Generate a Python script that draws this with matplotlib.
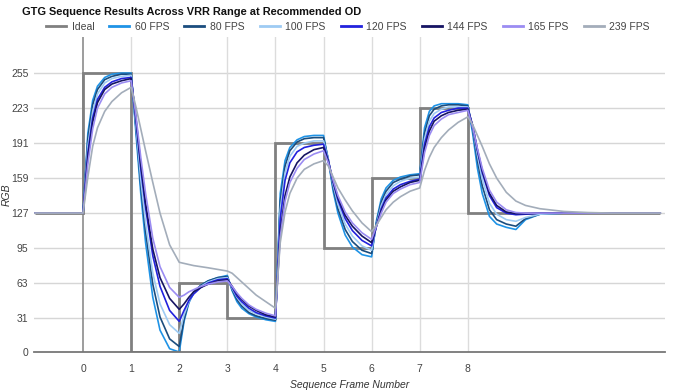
import matplotlib
matplotlib.use('Agg')
import matplotlib.pyplot as plt
from matplotlib.lines import Line2D

# ---------------- data ----------------
title = "GTG Sequence Results Across VRR Range at Recommended OD"
x_label = "Sequence Frame Number"
y_label = "RGB"
y_ticks = [0, 31, 63, 95, 127, 159, 191, 223, 255]
x_ticks = [0, 1, 2, 3, 4, 5, 6, 7, 8]

ideal_edges = [-1, 0, 1, 2, 3, 4, 5, 6, 7, 8, 12]
ideal_levels = [127, 255, 0, 63, 31, 191, 95, 159, 223, 127]

frame_offsets = [0.1, 0.2, 0.3, 0.45, 0.6, 0.8, 1.0]
tail_x = [8.1, 8.2, 8.3, 8.45, 8.6, 8.8, 9.0, 9.2, 9.5, 10, 10.5, 11, 12]
sample_x = [-1.0, 0.0] + [k + o for k in range(8) for o in frame_offsets] + tail_x

series_names = ["60 FPS", "80 FPS", "100 FPS", "120 FPS", "144 FPS", "165 FPS", "239 FPS"]

fps60 = [127, 127,
         200, 230, 243, 251, 254, 255, 255,
         200, 145, 100, 50, 20, 3, 0,
         28, 45, 54, 61, 65, 68, 70,
         56, 46, 40, 35, 32, 29.5, 28,
         145, 175, 187, 194, 197, 198, 198,
         175, 147, 127, 107, 96, 89, 87,
         120, 140, 150, 157, 160, 162, 163,
         205, 220, 225, 227, 227, 227, 226,
         200, 168, 145, 124, 117, 114, 112, 121, 126, 127, 127, 127, 127]
fps80 = [127, 127,
         195, 226, 240, 249, 252, 254, 254,
         205, 152, 110, 62, 32, 12, 5,
         30, 46, 55, 61, 65, 68, 69,
         57, 48, 42, 36, 33, 30.5, 29,
         138, 170, 184, 192, 195, 196, 196,
         176, 150, 131, 112, 101, 93, 90,
         118, 137, 147, 155, 158, 161, 162,
         200, 216, 222, 225, 226, 226, 225,
         204, 175, 152, 130, 121, 117, 115, 122, 126, 127, 127, 127, 127]
fps100 = [127, 127,
          188, 220, 236, 246, 250, 252, 253,
          208, 158, 118, 72, 44, 25, 17,
          34, 46, 54, 60, 64, 67, 68,
          58, 50, 44, 38, 35, 32, 30,
          130, 164, 179, 188, 191, 193, 193,
          176, 153, 135, 117, 106, 97, 93,
          116, 134, 144, 152, 156, 159, 160,
          195, 211, 218, 222, 224, 224, 224,
          206, 180, 158, 136, 126, 121, 119.5, 123, 126, 127, 127, 127, 127]
fps120 = [127, 127,
          182, 214, 231, 242, 247, 250, 251,
          212, 168, 132, 88, 60, 38, 28,
          38, 47, 53, 59, 63, 66, 67,
          59, 51, 46, 40, 36, 33, 31,
          122, 157, 173, 183, 187, 189, 190,
          175, 155, 139, 122, 111, 102, 97,
          115, 131, 141, 149, 153, 156, 158,
          190, 206, 214, 219, 221, 223, 223,
          207, 184, 164, 143, 132, 127, 125.5, 126, 127, 127, 127, 127, 127]
fps144 = [127, 127,
          178, 210, 228, 240, 245, 248, 250,
          214, 172, 136, 94, 68, 49, 39,
          44, 50, 55, 59, 62, 65, 66,
          60, 53, 48, 42, 38, 34, 32,
          110, 143, 160, 173, 180, 185, 187,
          174, 156, 141, 125, 115, 106, 100,
          115, 129, 139, 147, 151, 155, 157,
          186, 202, 211, 216, 219, 221, 222,
          207, 185, 166, 145, 134, 128, 126.5, 126.5, 127, 127, 127, 127, 127]
fps165 = [127, 127,
          172, 204, 223, 236, 242, 246, 248,
          216, 178, 145, 104, 78, 59, 50,
          52, 55, 57, 60, 62, 64, 65,
          60, 54, 49, 43, 39, 35.5, 33,
          105, 138, 155, 168, 176, 181, 184,
          173, 157, 143, 128, 118, 109, 103,
          115, 127, 137, 145, 149, 153, 155,
          182, 198, 207, 213, 217, 219, 221,
          206, 186, 168, 148, 137, 130, 127.5, 127, 127, 127, 127, 127, 127]
fps239 = [127, 127,
          160, 188, 205, 220, 229, 237, 242,
          224, 204, 184, 155, 127, 98, 82,
          81, 80, 79, 78, 77, 75.5, 74,
          72, 68, 64, 58, 52, 46, 40,
          100, 128, 145, 159, 167, 172, 175,
          170, 160, 150, 139, 129, 118, 110,
          116, 123, 130, 137, 142, 147, 150,
          166, 178, 187, 196, 203, 210, 215,
          208, 198, 188, 172, 159, 146, 138, 134, 131, 128.5, 127.5, 127, 127]

series_values = [fps60, fps80, fps100, fps120, fps144, fps165, fps239]
series_colors = ["#1f93e6", "#1b4d7e", "#9ecbf3", "#2222dd", "#161463", "#9b8cf2", "#a3adba"]
ideal_color = "#808080"

# ---------------- figure ----------------
plt.rcParams['font.family'] = ['Liberation Sans', 'DejaVu Sans']
fig = plt.figure(figsize=(6.75, 3.9), dpi=100)
ax = fig.add_axes([34 / 675, 1 - 352 / 390, 631 / 675, 315 / 390])

ax.set_xlim(-1.02, 12.1)
ax.set_ylim(0, 288)

for yt in y_ticks[1:]:
    ax.axhline(yt, color="#d6d6d6", lw=1, zorder=0)
for xt in x_ticks[1:]:
    ax.axvline(xt, color="#dcdcdc", lw=1, zorder=0)
ax.axvline(0, color="#8c8c8c", lw=1.2, zorder=0.5)

ax.stairs(ideal_levels, ideal_edges, baseline=None, color=ideal_color, lw=2, zorder=1)
for name, vals, col in zip(series_names, series_values, series_colors):
    ax.plot(sample_x, vals, color=col, lw=1.2, zorder=2, label=name)

for s in ["top", "right", "left"]:
    ax.spines[s].set_visible(False)
ax.spines["bottom"].set_color("#777777")
ax.spines["bottom"].set_linewidth(1.3)

ax.set_yticks(y_ticks)
ax.set_xticks(x_ticks)
ax.tick_params(axis="both", length=0, labelsize=7.5, labelcolor="#444444")
ax.tick_params(axis="x", pad=9)
ax.tick_params(axis="y", pad=4)

ax.set_xlabel(x_label, fontsize=7.5, style="italic", color="#333333", labelpad=4)
ax.set_ylabel(y_label, fontsize=7.5, style="italic", color="#333333")
ax.yaxis.set_label_coords((12 - 34) / 631, (352 - 195) / 315)

fig.text(22 / 675, 1 - 12 / 390, title, fontsize=7.9, fontweight="bold",
         color="#111111", ha="left", va="center")

handles = [Line2D([0], [0], color=ideal_color, lw=2)] + \
          [Line2D([0], [0], color=c, lw=2) for c in series_colors]
labels = ["Ideal"] + series_names
fig.legend(handles, labels, loc="center", bbox_to_anchor=(348 / 675, 1 - 27 / 390),
           ncol=8, frameon=False, fontsize=7.5, handlelength=1.9, handletextpad=0.55,
           columnspacing=1.45, labelcolor="#444444")

fig.savefig("out.png", dpi=100)
